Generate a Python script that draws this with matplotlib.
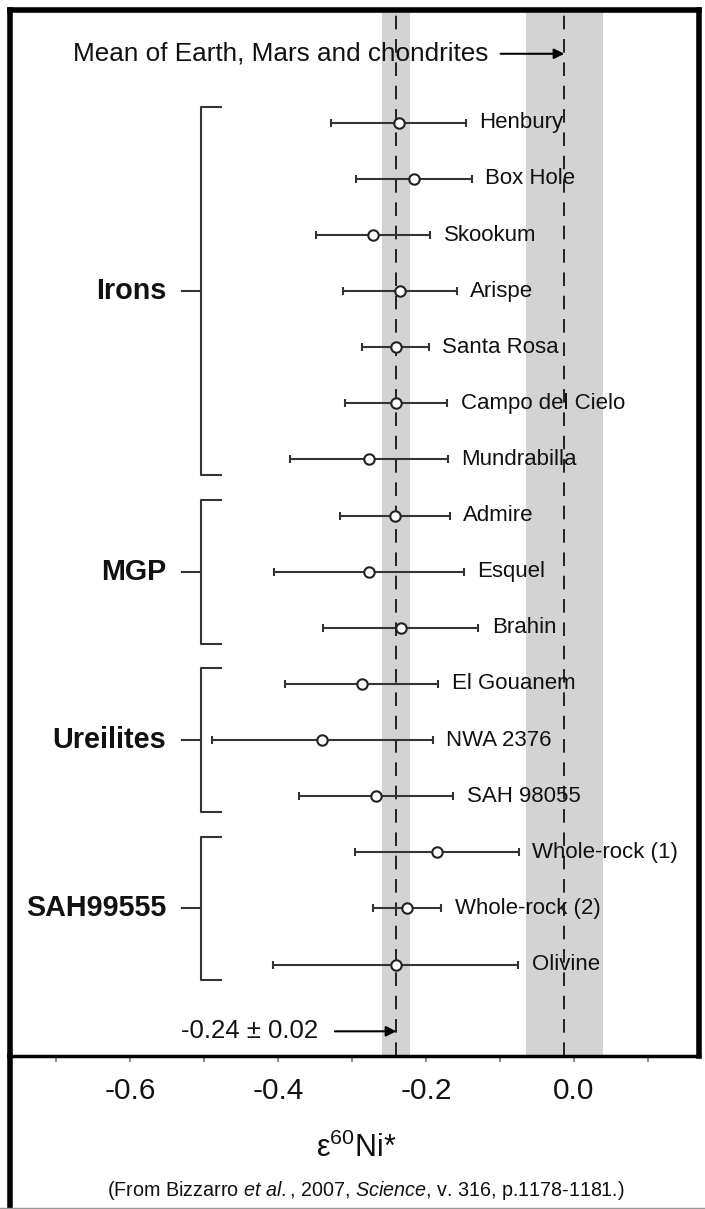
import matplotlib
matplotlib.use("Agg")
import matplotlib.pyplot as plt
from matplotlib.lines import Line2D

plt.rcParams['font.family'] = ['Liberation Sans', 'DejaVu Sans']
plt.rcParams['mathtext.fontset'] = 'custom'
plt.rcParams['mathtext.rm'] = 'Liberation Sans'
plt.rcParams['mathtext.it'] = 'Liberation Sans:italic'
plt.rcParams['axes.unicode_minus'] = False

samples = ["Henbury", "Box Hole", "Skookum", "Arispe", "Santa Rosa",
           "Campo del Cielo", "Mundrabilla", "Admire", "Esquel", "Brahin",
           "El Gouanem", "NWA 2376", "SAH 98055",
           "Whole-rock (1)", "Whole-rock (2)", "Olivine"]
ni60 = [-0.237, -0.216, -0.271, -0.235, -0.241, -0.240, -0.277,
        -0.242, -0.277, -0.234, -0.287, -0.340, -0.267,
        -0.185, -0.225, -0.241]
ni60_err = [0.091, 0.078, 0.077, 0.077, 0.045, 0.069, 0.107,
            0.074, 0.128, 0.105, 0.104, 0.149, 0.104,
            0.111, 0.046, 0.166]
groups = ["Irons", "MGP", "Ureilites", "SAH99555"]
group_sizes = [7, 3, 3, 3]

iron_mean, iron_err = -0.24, 0.019
earth_mean, earth_err = -0.013, 0.052

xticks = [-0.7, -0.6, -0.5, -0.4, -0.3, -0.2, -0.1, 0.0, 0.1]
xtick_labels = ["", "-0.6", "", "-0.4", "", "-0.2", "", "0.0", ""]

W, H = 705, 1209
fig = plt.figure(figsize=(W / 100, H / 100), dpi=100)
ax = fig.add_axes([10 / W, 1 - 1056 / H, 689 / W, 1046 / H])

rows = list(range(len(samples)))

# shaded bands + dashed means
ax.axvspan(iron_mean - iron_err, iron_mean + iron_err, color='#d3d3d3', lw=0, zorder=0)
ax.axvspan(earth_mean - earth_err, earth_mean + earth_err, color='#d3d3d3', lw=0, zorder=0)
ax.axvline(iron_mean, color='#222222', lw=1.4, dashes=(7, 5), zorder=1)
ax.axvline(earth_mean, color='#222222', lw=1.4, dashes=(7, 5), zorder=1)

ax.errorbar(ni60, rows, xerr=ni60_err, fmt='o', mfc='white', mec='#222222',
            mew=1.5, ms=7.5, ecolor='#333333', elinewidth=1.5, capsize=3,
            capthick=1.5, zorder=3)

for i, name in enumerate(samples):
    ax.text(ni60[i] + ni60_err[i] + 0.018, i, name, ha='left', va='center',
            fontsize=16, color='#111111')

# group brackets
start = 0
for g, n in zip(groups, group_sizes):
    top = start - 0.28
    bot = start + n - 1 + 0.28
    mid = start + (n - 1) / 2
    ax.plot([-0.477, -0.504, -0.504, -0.477], [top, top, bot, bot],
            color='#333333', lw=1.5)
    ax.plot([-0.530, -0.504], [mid, mid], color='#333333', lw=1.5)
    ax.text(-0.551, mid, g, ha='right', va='center', fontsize=20.7,
            fontweight='bold', color='#111111')
    start += n

# annotations
ax.text(-0.115, -1.23, "Mean of Earth, Mars and chondrites", ha='right',
        va='center', fontsize=18.8, color='#111111')
ax.annotate('', xy=(earth_mean, -1.23), xytext=(-0.099, -1.23),
            arrowprops=dict(arrowstyle='-|>', color='black', lw=1.5,
                            mutation_scale=15, shrinkA=0, shrinkB=0))
ax.text(-0.345, 16.19, "-0.24 ± 0.02", ha='right', va='center',
        fontsize=18.5, color='#111111')
ax.annotate('', xy=(iron_mean, 16.19), xytext=(-0.323, 16.19),
            arrowprops=dict(arrowstyle='-|>', color='black', lw=1.5,
                            mutation_scale=15, shrinkA=0, shrinkB=0))

ax.set_xlim(-0.762, 0.169)
ax.set_ylim(16.63, -2.01)
ax.set_yticks([])
ax.set_xticks(xticks)
ax.set_xticklabels(xtick_labels)
ax.tick_params(axis='x', direction='out', length=4, width=1.2, color='#777777',
               labelsize=21.5, pad=11, labelcolor='#111111')
for side in ['top', 'left', 'right']:
    ax.spines[side].set_linewidth(4)
ax.spines['bottom'].set_linewidth(2.5)

fig.text(356 / W, 1 - 1148 / H, "ε$^{60}$Ni*", ha='center', va='center',
         fontsize=22, color='#111111')
fig.text(366 / W, 1 - 1190 / H,
         r"(From Bizzarro $\mathit{et\ al.}$, 2007, $\mathit{Science}$, v. 316, p.1178-1181.)",
         ha='center', va='center', fontsize=14.2, color='#111111')

# frame continuation below the plot
fig.add_artist(Line2D([10 / W, 10 / W], [0, 1 - 1056 / H], transform=fig.transFigure,
                      color='black', lw=4))
fig.add_artist(Line2D([0, 1], [1 / H, 1 / H], transform=fig.transFigure,
                      color='#999999', lw=1))

fig.savefig("out.png", dpi=100)
